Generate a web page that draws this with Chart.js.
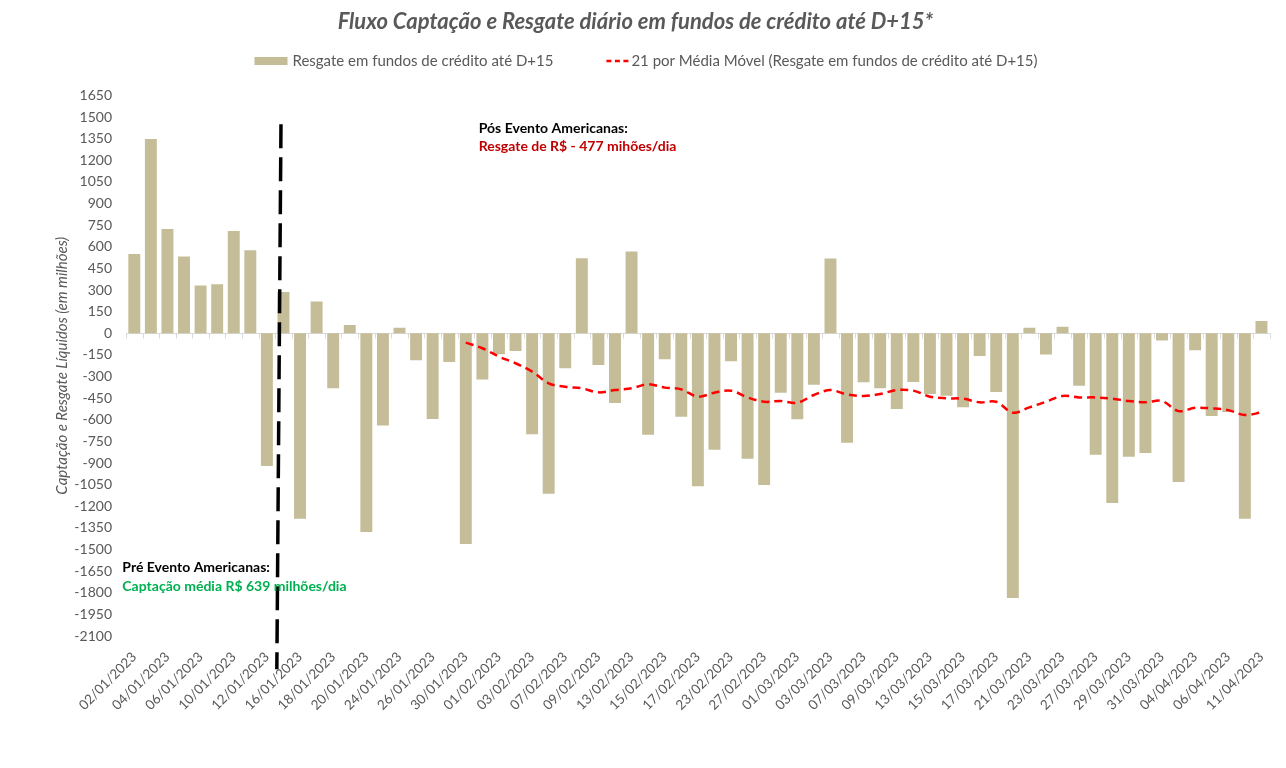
<!DOCTYPE html>
<html>
<head>
<meta charset="utf-8">
<script src="https://cdn.jsdelivr.net/npm/chart.js@4.4.0/dist/chart.umd.min.js"></script>
<style>
  html, body { margin: 0; padding: 0; background: #fff; }
  #wrap { width: 1286px; height: 768px; }
</style>
</head>
<body>
<div id="wrap"><canvas id="chart" width="1286" height="768"></canvas></div>
<script>
// business days, 02/01/2023 .. 11/04/2023
const dates = [
  '02/01/2023', '03/01/2023', '04/01/2023', '05/01/2023', '06/01/2023', '09/01/2023', '10/01/2023', '11/01/2023',
  '12/01/2023', '13/01/2023', '16/01/2023', '17/01/2023', '18/01/2023', '19/01/2023', '20/01/2023', '23/01/2023',
  '24/01/2023', '25/01/2023', '26/01/2023', '27/01/2023', '30/01/2023', '31/01/2023',
  '01/02/2023', '02/02/2023', '03/02/2023', '06/02/2023', '07/02/2023', '08/02/2023', '09/02/2023', '10/02/2023',
  '13/02/2023', '14/02/2023', '15/02/2023', '16/02/2023', '17/02/2023', '22/02/2023', '23/02/2023', '24/02/2023',
  '27/02/2023', '28/02/2023',
  '01/03/2023', '02/03/2023', '03/03/2023', '06/03/2023', '07/03/2023', '08/03/2023', '09/03/2023', '10/03/2023',
  '13/03/2023', '14/03/2023', '15/03/2023', '16/03/2023', '17/03/2023', '20/03/2023', '21/03/2023', '22/03/2023',
  '23/03/2023', '24/03/2023', '27/03/2023', '28/03/2023', '29/03/2023', '30/03/2023', '31/03/2023',
  '03/04/2023', '04/04/2023', '05/04/2023', '06/04/2023', '10/04/2023', '11/04/2023'
];

// net flow per day (R$ millions)
const flows = [
  550, 1347, 724, 532, 331, 340, 710, 576, -921, 287,
  -1287, 220, -382, 58, -1378, -640, 39, -188, -595, -200,
  -1462, -320, -146, -123, -701, -1114, -243, 521, -220, -484,
  567, -704, -181, -579, -1062, -808, -194, -871, -1053, -412,
  -597, -357, 518, -760, -340, -382, -526, -338, -421, -433,
  -514, -158, -408, -1836, 39, -148, 46, -364, -843, -1178,
  -857, -831, -51, -1032, -118, -574, -547, -1287, 85
];

// 21-day moving average, first value on 30/01
const movingAvg = [
  null, null, null, null, null, null, null, null, null, null,
  null, null, null, null, null, null, null, null, null, null,
  -65, -104, -162, -208, -266, -347, -371, -382, -410, -394,
  -382, -354, -377, -389, -440, -412, -398, -445, -475, -470,
  -482, -428, -394, -425, -435, -421, -394, -398, -440, -451,
  -454, -479, -475, -551, -514, -475, -435, -445, -445, -454,
  -470, -479, -470, -540, -517, -521, -533, -567, -549
];

const seriesNames = [
  'Resgate em fundos de crédito até D+15',
  '21 por Média Móvel (Resgate em fundos de crédito até D+15)'
];

const yMin = -2100;
const yMax = 1650;
const yStep = 150;

const FONT = 'Lato, "Noto Sans", sans-serif';
const GREY = '#595959';
const BAR_COLOR = '#C4BD97';
const LINE_COLOR = '#FF0000';

// light zero line with small category ticks
const zeroLine = {
  id: 'zeroLine',
  beforeDatasetsDraw(chart) {
    const { ctx, chartArea, scales: { x, y } } = chart;
    const y0 = Math.round(y.getPixelForValue(0)) + 0.5;
    const half = (x.getPixelForValue(1) - x.getPixelForValue(0)) / 2;
    ctx.save();
    ctx.strokeStyle = '#D9D9D9';
    ctx.lineWidth = 1;
    ctx.beginPath();
    ctx.moveTo(chartArea.left, y0);
    ctx.lineTo(chartArea.right, y0);
    for (let i = 0; i <= dates.length; i++) {
      const px = Math.round(x.getPixelForValue(i) - half) + 0.5;
      ctx.moveTo(px, y0);
      ctx.lineTo(px, y0 + 5);
    }
    ctx.stroke();
    ctx.restore();
  }
};

// Americanas event marker and notes
const eventNotes = {
  id: 'eventNotes',
  afterDatasetsDraw(chart) {
    const { ctx, scales: { x, y } } = chart;
    ctx.save();
    ctx.strokeStyle = '#000';
    ctx.lineWidth = 3.5;
    ctx.setLineDash([24, 9]);
    ctx.beginPath();
    ctx.moveTo(x.getPixelForValue(8.85), y.getPixelForValue(1450));
    ctx.lineTo(x.getPixelForValue(8.6), y.getPixelForValue(-2330));
    ctx.stroke();
    ctx.setLineDash([]);

    ctx.font = 'bold 14px ' + FONT;
    ctx.textAlign = 'left';
    ctx.textBaseline = 'middle';
    ctx.fillStyle = '#000';
    ctx.fillText('Pós Evento Americanas:', x.getPixelForValue(20.78), y.getPixelForValue(1420));
    ctx.fillStyle = '#C00000';
    ctx.fillText('Resgate de R$ - 477 mihões/dia', x.getPixelForValue(20.78), y.getPixelForValue(1295));
    ctx.fillStyle = '#000';
    ctx.fillText('Pré Evento Americanas:', x.getPixelForValue(-0.72), y.getPixelForValue(-1623));
    ctx.fillStyle = '#00B050';
    ctx.fillText('Captação média R$ 639 milhões/dia', x.getPixelForValue(-0.72), y.getPixelForValue(-1755));
    ctx.restore();
  }
};

// legend drawn like the Excel one
const topLegend = {
  id: 'topLegend',
  afterDraw(chart) {
    const { ctx } = chart;
    const ds = chart.data.datasets;
    const cy = 61;
    ctx.save();
    ctx.font = '15px ' + FONT;
    ctx.textBaseline = 'middle';
    const w1 = ctx.measureText(ds[0].label).width;
    const w2 = ctx.measureText(ds[1].label).width;
    const total = 33 + 5 + w1 + 53 + 22 + 3 + w2;
    let cx = 646 - total / 2;
    ctx.fillStyle = ds[0].backgroundColor;
    ctx.fillRect(cx, cy - 4, 33, 8);
    cx += 38;
    ctx.fillStyle = GREY;
    ctx.fillText(ds[0].label, cx, cy);
    cx += w1 + 53;
    ctx.strokeStyle = ds[1].borderColor;
    ctx.lineWidth = 2.5;
    ctx.setLineDash([5, 3.5]);
    ctx.beginPath();
    ctx.moveTo(cx, cy);
    ctx.lineTo(cx + 22, cy);
    ctx.stroke();
    ctx.setLineDash([]);
    cx += 25;
    ctx.fillText(ds[1].label, cx, cy);
    ctx.restore();
  }
};

new Chart(document.getElementById('chart'), {
  type: 'bar',
  data: {
    labels: dates,
    datasets: [
      {
        type: 'bar',
        label: seriesNames[0],
        data: flows,
        backgroundColor: BAR_COLOR,
        borderWidth: 0,
        barPercentage: 0.72,
        categoryPercentage: 1,
        order: 1
      },
      {
        type: 'line',
        label: seriesNames[1],
        data: movingAvg,
        borderColor: LINE_COLOR,
        backgroundColor: LINE_COLOR,
        borderWidth: 2.5,
        borderDash: [8, 5],
        pointRadius: 0,
        tension: 0.35,
        fill: false,
        order: 0
      }
    ]
  },
  options: {
    responsive: false,
    animation: false,
    devicePixelRatio: 1,
    layout: { padding: { left: 0, right: 15, top: 0, bottom: 0 } },
    plugins: {
      legend: { display: false },
      tooltip: { enabled: false },
      title: {
        display: true,
        text: 'Fluxo Captação e Resgate diário em fundos de crédito até D+15*',
        color: GREY,
        font: { family: FONT, size: 22, weight: 'bold', style: 'italic' },
        padding: { top: 9, bottom: 60 }
      }
    },
    scales: {
      x: {
        grid: { display: false, drawTicks: false },
        border: { display: false },
        ticks: {
          autoSkip: false,
          maxRotation: 45,
          minRotation: 45,
          padding: 13,
          color: GREY,
          font: { family: FONT, size: 13.5 },
          callback: (v, i) => (i % 2 === 0 ? dates[i] : '')
        },
        afterFit: (s) => { s.height = 132; }
      },
      y: {
        min: yMin,
        max: yMax,
        grid: { display: false, drawTicks: false },
        border: { display: false },
        ticks: {
          stepSize: yStep,
          padding: 14,
          color: GREY,
          font: { family: FONT, size: 14 },
          callback: (v) => String(v)
        },
        title: {
          display: true,
          text: 'Captação e Resgate Líquidos (em milhões)',
          color: GREY,
          font: { family: FONT, size: 15, style: 'italic' },
          padding: { top: 53, bottom: 0 }
        },
        afterFit: (s) => { s.width = 126; }
      }
    }
  },
  plugins: [zeroLine, eventNotes, topLegend]
});
</script>
</body>
</html>
